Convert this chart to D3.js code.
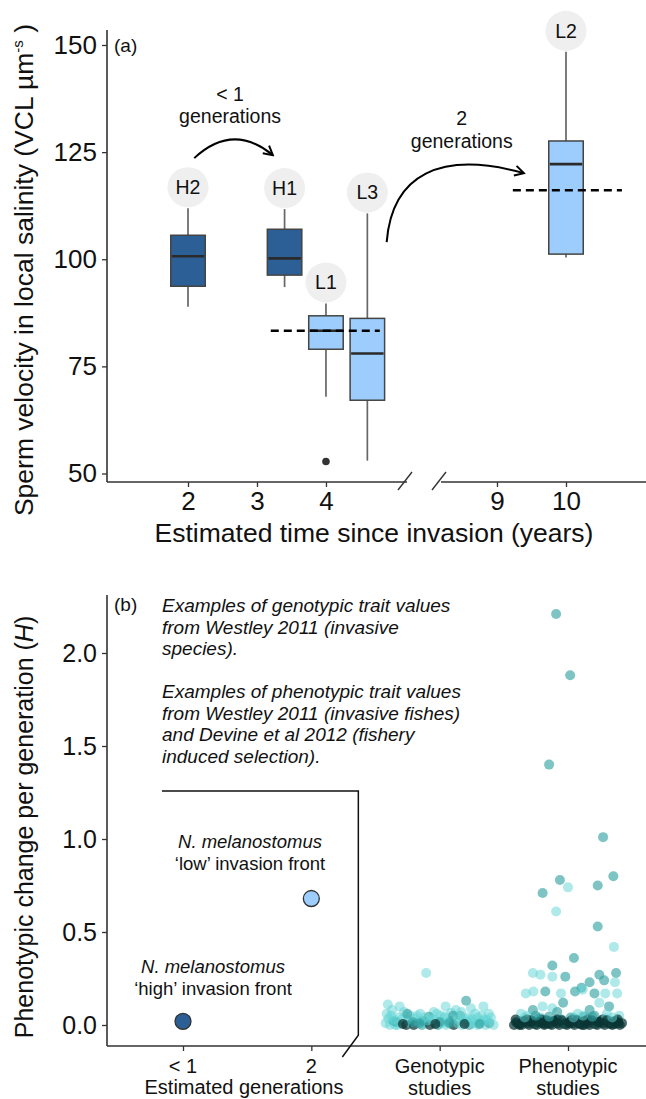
<!DOCTYPE html>
<html>
<head>
<meta charset="utf-8">
<script src="https://cdn.jsdelivr.net/npm/d3@7"></script>
<style>
  body { margin: 0; background: #fff; }
  text { font-family: "Liberation Sans", Arial, sans-serif; fill: #111; }
</style>
</head>
<body>
<svg id="chart" width="646" height="1099"></svg>
<script>
// ---- panel (a): sperm velocity boxplots ----
const sites = ['H2', 'H1', 'L1', 'L3', 'L2'];
const siteYears = [2, 3.4, 4, 4.6, 10];
const siteFront = ['high', 'high', 'low', 'low', 'low'];
const whiskLo = [88.9, 93.5, 67.9, 53.0, 100.4];
const q1 = [93.7, 96.3, 79.0, 67.1, 101.2];
const median = [100.7, 100.2, 83.3, 78.0, 122.2];
const q3 = [105.6, 107.0, 86.8, 86.2, 127.6];
const whiskHi = [111.9, 111.7, 89.7, 110.7, 148.4];
const outlierSite = ['L1'];
const outlierValue = [52.8];
// dashed reference lines (start year, end year, value)
const refStart = [3.2, 9.23];
const refEnd = [4.78, 10.81];
const refValue = [83.3, 116.1];
const yearTicks = [2, 3, 4, 9, 10];
const velocityTicks = [50, 75, 100, 125, 150];

// ---- panel (b): phenotypic change per generation ----
const genCategories = ['< 1', '2', 'Genotypic', 'Phenotypic'];
const genTickLines = [['< 1'], ['2'], ['Genotypic', 'studies'], ['Phenotypic', 'studies']];
const gobyCategory = ['< 1', '2'];
const gobyValue = [0.02, 0.68];
const gobyFront = ['high', 'low'];
const hTicks = [0.0, 0.5, 1.0, 1.5, 2.0];

// genotypic studies: jitter (fraction of half band), H value, shade group (0 light, 1 mid, 2 dark)
const genoJitter = [-0.25, -0.96, -0.74, 0.49, 0.81, 0.11, -0.88, -0.36, -0.11, 0.21, 0.58, 0.91, -0.55, 0.38, -0.66, 0.02, 0.70, -0.20, 0.30, -0.45,
  -1.0, -0.92, -0.85, -0.78, -0.7, -0.62, -0.55, -0.48, -0.4, -0.33, -0.26, -0.18, -0.1, -0.03, 0.04, 0.12, 0.19, 0.26, 0.33, 0.41, 0.48, 0.55, 0.62, 0.7, 0.77, 0.85, 0.92, 1.0,
  -0.95, -0.58, -0.22, 0.08, 0.44, 0.82, -0.8, -0.3, 0.15, 0.6,
  -0.9, -0.75, -0.6, -0.42, -0.28, -0.05, 0.1, 0.25, 0.4, 0.52, 0.66, 0.78, 0.95, -0.98, -0.15, 0.33, 0.88, -0.5, 0.0, 0.5, -0.82, 0.72,
  -0.68, -0.38, -0.08, 0.18, 0.46, 0.74, -0.85, 0.6];
const genoValue = [0.28, 0.11, 0.10, 0.13, 0.10, 0.10, 0.08, 0.06, 0.07, 0.065, 0.09, 0.06, 0.05, 0.05, 0.07, 0.05, 0.04, 0.045, 0.08, 0.035,
  0.01, 0.0, 0.02, 0.0, 0.03, 0.0, 0.01, 0.0, 0.02, 0.0, 0.01, 0.0, 0.03, 0.0, 0.01, 0.0, 0.02, 0.0, 0.01, 0.0, 0.03, 0.0, 0.01, 0.0, 0.02, 0.0, 0.01, 0.0,
  0.035, 0.03, 0.025, 0.035, 0.02, 0.03, 0.015, 0.02, 0.015, 0.02,
  0.05, 0.04, 0.06, 0.05, 0.04, 0.06, 0.045, 0.05, 0.07, 0.04, 0.06, 0.05, 0.04, 0.06, 0.03, 0.03, 0.025, 0.015, 0.015, 0.015, 0.0, 0.01,
  0.005, 0.01, 0.005, 0.01, 0.005, 0.005, 0.03, 0.035];
const genoShade = [0, 0, 0, 1, 0, 0, 0, 0, 0, 0, 0, 0, 0, 1, 0, 0, 0, 1, 0, 0,
  0, 0, 1, 0, 0, 2, 0, 2, 0, 1, 0, 2, 0, 1, 0, 0, 1, 2, 0, 0, 0, 1, 0, 0, 0, 0, 1, 0,
  0, 0, 0, 0, 0, 0, 1, 1, 0, 0,
  0, 0, 1, 0, 0, 0, 0, 1, 0, 0, 0, 0, 0, 0, 0, 0, 0, 1, 1, 0, 0, 0,
  2, 1, 2, 1, 2, 1, 0, 0];

// phenotypic studies
const phenoJitter = [-0.22, 0.04, -0.35, 0.65, 0.84, -0.15, 0.0, -0.47, 0.55, -0.22, 0.55, 0.85, 0.11, -0.29, -0.65, -0.51, -0.29, -0.05, 0.4, 0.58,
  0.89, 0.67, 0.87, 0.25, -0.78, -0.64, -0.42, -0.13, 0.13, 0.27, 0.49, 0.69, 0.91, -0.09, -0.65, -0.47, -0.29, 0.4, 0.58, 0.76,
  -0.87, -0.2, 0.18, 0.95, 0.49, -0.5, 0.3, -0.75, 0.05, 0.72,
  -1.0, -0.93, -0.86, -0.79, -0.72, -0.65, -0.58, -0.51, -0.44, -0.37, -0.3, -0.23, -0.16, -0.09, -0.02, 0.05, 0.12, 0.19, 0.26, 0.33, 0.4, 0.47, 0.54, 0.61, 0.68, 0.75, 0.82, 0.89, 0.96, 1.0,
  -0.97, -0.88, -0.76, -0.62, -0.49, -0.34, -0.2, -0.06, 0.08, 0.22, 0.36, 0.5, 0.64, 0.78, 0.92,
  -0.9, -0.68, -0.42, -0.26, 0.02, 0.3, 0.56, 0.86, -0.55, 0.15, 0.7, -0.12,
  -0.96, -0.89, -0.82, -0.75, -0.68, -0.61, -0.54, -0.47, -0.4, -0.33, -0.26, -0.19, -0.12, -0.05, 0.02, 0.09, 0.16, 0.23, 0.3, 0.37, 0.44, 0.51, 0.58, 0.65, 0.72, 0.79, 0.86, 0.93,
  -0.8, -0.35, 0.1, 0.45, 0.82, -0.6, 0.28];
const phenoValue = [2.21, 1.88, 1.40, 1.01, 0.80, 0.78, 0.74, 0.71, 0.75, 0.61, 0.53, 0.42, 0.36, 0.32, 0.28, 0.27, 0.26, 0.26, 0.23, 0.27,
  0.28, 0.24, 0.23, 0.20, 0.17, 0.18, 0.18, 0.17, 0.18, 0.19, 0.17, 0.17, 0.17, 0.12, 0.08, 0.10, 0.09, 0.08, 0.12, 0.10,
  0.06, 0.07, 0.06, 0.05, 0.05, 0.04, 0.045, 0.05, 0.04, 0.06,
  0.0, 0.01, 0.0, 0.02, 0.0, 0.01, 0.0, 0.02, 0.0, 0.01, 0.0, 0.02, 0.0, 0.01, 0.0, 0.02, 0.0, 0.01, 0.0, 0.02, 0.0, 0.01, 0.0, 0.02, 0.0, 0.01, 0.0, 0.02, 0.0, 0.01,
  0.03, 0.02, 0.03, 0.01, 0.03, 0.02, 0.03, 0.01, 0.03, 0.02, 0.03, 0.01, 0.03, 0.02, 0.03,
  0.0, 0.015, 0.005, 0.02, 0.01, 0.0, 0.015, 0.005, 0.035, 0.03, 0.035, 0.03,
  0.015, 0.005, 0.02, 0.01, 0.025, 0.005, 0.015, 0.01, 0.025, 0.005, 0.02, 0.01, 0.025, 0.005, 0.015, 0.01, 0.025, 0.005, 0.02, 0.01, 0.025, 0.005, 0.015, 0.01, 0.025, 0.005, 0.02, 0.01,
  0.04, 0.045, 0.04, 0.045, 0.04, 0.05, 0.05];
const phenoShade = [1, 1, 1, 1, 1, 1, 0, 1, 1, 0, 1, 0, 1, 1, 0, 0, 0, 1, 1, 1,
  1, 1, 0, 1, 0, 0, 1, 0, 1, 0, 1, 0, 0, 1, 1, 0, 0, 1, 0, 1,
  0, 1, 0, 0, 1, 0, 1, 0, 1, 0,
  2, 2, 2, 2, 2, 2, 2, 2, 2, 2, 2, 2, 2, 2, 2, 2, 2, 2, 2, 2, 2, 2, 2, 2, 2, 2, 2, 2, 2, 2,
  2, 1, 2, 0, 2, 1, 2, 0, 2, 1, 2, 0, 2, 1, 2,
  2, 2, 2, 2, 2, 2, 2, 2, 1, 1, 0, 1,
  2, 2, 2, 2, 2, 2, 2, 2, 2, 2, 2, 2, 2, 2, 2, 2, 2, 2, 2, 2, 2, 2, 2, 2, 2, 2, 2, 2,
  0, 1, 0, 1, 0, 1, 0];

const frontColor = { high: '#2c5f95', low: '#9ccdfd' };
const shadeColor = ['#5fd3d3', '#2e9f9f', '#0a3535'];
const shadeOpacity = [0.5, 0.62, 0.72];
const fontFamily = '"Liberation Sans", Arial, sans-serif';

const svg = d3.select('#chart');

// =================== panel (a) ===================
const axisLeftX = 107;
const aTop = 30, aBottom = 482;

// broken x axis: years 2-4 and 9-10 share one step width
const x = d3.scaleLinear()
  .domain([2, 4.95, 8.45, 10])
  .range([188, 391.5, 459, 566]);
const y = d3.scaleLinear().domain([50, 150]).range([473.5, 45]);
const boxW = x(2.5) - x(2);

const a = svg.append('g');

// y axis
a.append('line')
  .attr('x1', axisLeftX).attr('x2', axisLeftX)
  .attr('y1', aTop).attr('y2', aBottom)
  .attr('stroke', '#333').attr('stroke-width', 1.6);
const yAxisA = a.append('g')
  .attr('transform', `translate(${axisLeftX},0)`)
  .call(d3.axisLeft(y).tickValues(velocityTicks).tickSize(5).tickPadding(5));
yAxisA.select('.domain').remove();
yAxisA.selectAll('.tick line').attr('stroke', '#333').attr('stroke-width', 1.3);
yAxisA.selectAll('.tick text').attr('font-size', 26).attr('fill', '#111')
  .style('font-family', fontFamily);

// x axis with break
const breakL = 407, breakR = 441;
a.append('line')
  .attr('x1', axisLeftX).attr('x2', breakL)
  .attr('y1', aBottom).attr('y2', aBottom)
  .attr('stroke', '#333').attr('stroke-width', 1.6);
a.append('line')
  .attr('x1', breakR).attr('x2', 646)
  .attr('y1', aBottom).attr('y2', aBottom)
  .attr('stroke', '#333').attr('stroke-width', 1.6);
[breakL - 2, breakR - 2].forEach(bx => {
  a.append('line')
    .attr('x1', bx - 7).attr('y1', aBottom + 8)
    .attr('x2', bx + 7).attr('y2', aBottom - 10)
    .attr('stroke', '#333').attr('stroke-width', 1.4);
});
const xAxisA = a.append('g')
  .attr('transform', `translate(0,${aBottom})`)
  .call(d3.axisBottom(x).tickValues(yearTicks).tickSize(5).tickPadding(5).tickFormat(d3.format('d')));
xAxisA.select('.domain').remove();
xAxisA.selectAll('.tick line').attr('stroke', '#333').attr('stroke-width', 1.3);
xAxisA.selectAll('.tick text').attr('font-size', 26).attr('fill', '#111')
  .style('font-family', fontFamily);

a.append('text')
  .attr('x', 374).attr('y', 542)
  .attr('text-anchor', 'middle')
  .attr('font-size', 26.5)
  .text('Estimated time since invasion (years)');

const yTitleA = a.append('text')
  .attr('transform', 'translate(33,270) rotate(-90)')
  .attr('text-anchor', 'middle')
  .attr('font-size', 26.5);
yTitleA.append('tspan').text('Sperm velocity in local salinity (VCL \u00b5m');
yTitleA.append('tspan').attr('font-size', 15).attr('dy', -10).text('-s');
yTitleA.append('tspan').attr('dy', 10).text(' )');

a.append('text')
  .attr('x', 114).attr('y', 52)
  .attr('font-size', 19)
  .text('(a)');

// boxes
const boxes = a.selectAll('.box')
  .data(sites)
  .enter().append('g')
  .attr('class', 'box');

boxes.append('line')
  .attr('x1', (d, i) => x(siteYears[i])).attr('x2', (d, i) => x(siteYears[i]))
  .attr('y1', (d, i) => y(whiskLo[i])).attr('y2', (d, i) => y(whiskHi[i]))
  .attr('stroke', '#666').attr('stroke-width', 1.7);

boxes.append('rect')
  .attr('x', (d, i) => x(siteYears[i]) - boxW / 2)
  .attr('width', boxW)
  .attr('y', (d, i) => y(q3[i]))
  .attr('height', (d, i) => y(q1[i]) - y(q3[i]))
  .attr('fill', (d, i) => frontColor[siteFront[i]])
  .attr('stroke', '#444').attr('stroke-width', 1.5);

boxes.append('line')
  .attr('x1', (d, i) => x(siteYears[i]) - boxW / 2 + 1)
  .attr('x2', (d, i) => x(siteYears[i]) + boxW / 2 - 1)
  .attr('y1', (d, i) => y(median[i])).attr('y2', (d, i) => y(median[i]))
  .attr('stroke', '#2a2a2a').attr('stroke-width', 2.6);

// dashed reference lines drawn over the boxes
a.selectAll('.ref')
  .data(refValue)
  .enter().append('line')
  .attr('class', 'ref')
  .attr('x1', (d, i) => x(refStart[i]))
  .attr('x2', (d, i) => x(refEnd[i]))
  .attr('y1', d => y(d)).attr('y2', d => y(d))
  .attr('stroke', '#000').attr('stroke-width', 2.6)
  .attr('stroke-dasharray', '8,5');

a.selectAll('.outlier')
  .data(outlierValue)
  .enter().append('circle')
  .attr('class', 'outlier')
  .attr('cx', (d, i) => x(siteYears[sites.indexOf(outlierSite[i])]))
  .attr('cy', d => y(d))
  .attr('r', 3.8)
  .attr('fill', '#333');

// site labels in grey bubbles above the whiskers
boxes.append('ellipse')
  .attr('cx', (d, i) => x(siteYears[i]))
  .attr('cy', (d, i) => y(whiskHi[i]) - 21)
  .attr('rx', 20.5).attr('ry', 20)
  .attr('fill', '#efefef');
boxes.append('text')
  .attr('x', (d, i) => x(siteYears[i]))
  .attr('y', (d, i) => y(whiskHi[i]) - 21)
  .attr('dy', '0.36em')
  .attr('text-anchor', 'middle')
  .attr('font-size', 19.5)
  .text(d => d);

// generation arrows
svg.append('defs').append('marker')
  .attr('id', 'head')
  .attr('viewBox', '0 0 12 12')
  .attr('refX', 10).attr('refY', 6)
  .attr('markerWidth', 12).attr('markerHeight', 12)
  .attr('markerUnits', 'userSpaceOnUse')
  .attr('orient', 'auto')
  .append('path')
  .attr('d', 'M1,1 L10,6 L1,11')
  .attr('fill', 'none').attr('stroke', '#000').attr('stroke-width', 2);

const arrow1 = d3.path();
arrow1.moveTo(x(2.09), y(123.6));
arrow1.quadraticCurveTo(x(2.65), y(132.0), x(3.23), y(124.3));
a.append('path')
  .attr('d', arrow1.toString())
  .attr('fill', 'none').attr('stroke', '#000').attr('stroke-width', 2)
  .attr('marker-end', 'url(#head)');

const arrow2 = d3.path();
arrow2.moveTo(x(4.88), y(104.0));
arrow2.bezierCurveTo(x(4.98), y(119.7), x(7.46), y(125.5), x(9.39), y(120.1));
a.append('path')
  .attr('d', arrow2.toString())
  .attr('fill', 'none').attr('stroke', '#000').attr('stroke-width', 2)
  .attr('marker-end', 'url(#head)');

const genNote1 = a.append('text').attr('text-anchor', 'middle').attr('font-size', 19.5);
genNote1.append('tspan').attr('x', x(2.61)).attr('y', 101).text('< 1');
genNote1.append('tspan').attr('x', x(2.61)).attr('y', 123).text('generations');
const genNote2 = a.append('text').attr('text-anchor', 'middle').attr('font-size', 19.5);
genNote2.append('tspan').attr('x', x(8.49)).attr('y', 125).text('2');
genNote2.append('tspan').attr('x', x(8.49)).attr('y', 148).text('generations');

// =================== panel (b) ===================
const bTop = 595, bBottom = 1046;
const x2 = d3.scalePoint().domain(genCategories).range([183, 568]);
const y2 = d3.scaleLinear().domain([0, 2]).range([1025, 653]);
const jitterHalf = 54;

const b = svg.append('g');

b.append('line')
  .attr('x1', axisLeftX).attr('x2', axisLeftX)
  .attr('y1', bTop).attr('y2', bBottom)
  .attr('stroke', '#333').attr('stroke-width', 1.6);
b.append('line')
  .attr('x1', axisLeftX).attr('x2', 646)
  .attr('y1', bBottom).attr('y2', bBottom)
  .attr('stroke', '#333').attr('stroke-width', 1.6);

const yAxisB = b.append('g')
  .attr('transform', `translate(${axisLeftX},0)`)
  .call(d3.axisLeft(y2).tickValues(hTicks).tickSize(5).tickPadding(5).tickFormat(d3.format('.1f')));
yAxisB.select('.domain').remove();
yAxisB.selectAll('.tick line').attr('stroke', '#333').attr('stroke-width', 1.3);
yAxisB.selectAll('.tick text').attr('font-size', 25).attr('fill', '#111')
  .style('font-family', fontFamily);

const xAxisB = b.append('g')
  .attr('transform', `translate(0,${bBottom})`)
  .call(d3.axisBottom(x2).tickSize(5).tickFormat(''));
xAxisB.select('.domain').remove();
xAxisB.selectAll('.tick line').attr('stroke', '#333').attr('stroke-width', 1.3);

genCategories.forEach((c, i) => {
  const t = b.append('text').attr('text-anchor', 'middle').attr('font-size', 20);
  genTickLines[i].forEach((ln, j) => {
    t.append('tspan').attr('x', x2(c)).attr('y', 1073 + j * 22).text(ln);
  });
});

b.append('text')
  .attr('x', 244).attr('y', 1094)
  .attr('text-anchor', 'middle')
  .attr('font-size', 20)
  .text('Estimated generations');

const yTitleB = b.append('text')
  .attr('transform', 'translate(33,827) rotate(-90)')
  .attr('text-anchor', 'middle')
  .attr('font-size', 25);
yTitleB.append('tspan').text('Phenotypic change per generation (');
yTitleB.append('tspan').attr('font-style', 'italic').text('H');
yTitleB.append('tspan').text(')');

b.append('text')
  .attr('x', 114).attr('y', 611)
  .attr('font-size', 19)
  .text('(b)');

const notes = [
  ['Examples of genotypic trait values', 'from Westley 2011 (invasive', 'species).'],
  ['Examples of phenotypic trait values', 'from Westley 2011 (invasive fishes)', 'and Devine et al 2012 (fishery', 'induced selection).']
];
const noteTop = [612, 698];
notes.forEach((lines, k) => {
  const t = b.append('text').attr('font-size', 19).attr('font-style', 'italic');
  lines.forEach((ln, j) => {
    t.append('tspan').attr('x', 162).attr('y', noteTop[k] + j * 21.7).text(ln);
  });
});

// bracket around the goby points
const bracketY = y2(1.258);
const bracketR = x2('2') + 47;
const bracket = d3.path();
bracket.moveTo(x2('< 1') - 21, bracketY);
bracket.lineTo(bracketR, bracketY);
bracket.lineTo(bracketR, y2(-0.055));
bracket.lineTo(bracketR - 16, y2(-0.172));
b.append('path')
  .attr('d', bracket.toString())
  .attr('fill', 'none').attr('stroke', '#111').attr('stroke-width', 1.5);

// study scatter
const studyPoints = genoValue.map((v, i) => ({ cat: 'Genotypic', j: genoJitter[i], v: v, s: genoShade[i] }))
  .concat(phenoValue.map((v, i) => ({ cat: 'Phenotypic', j: phenoJitter[i], v: v, s: phenoShade[i] })));

b.selectAll('.study')
  .data(studyPoints)
  .enter().append('circle')
  .attr('class', 'study')
  .attr('cx', d => x2(d.cat) + d.j * jitterHalf)
  .attr('cy', d => y2(d.v))
  .attr('r', 5)
  .attr('fill', d => shadeColor[d.s])
  .attr('fill-opacity', d => shadeOpacity[d.s]);

// goby estimates
b.selectAll('.goby')
  .data(gobyValue)
  .enter().append('circle')
  .attr('class', 'goby')
  .attr('cx', (d, i) => x2(gobyCategory[i]))
  .attr('cy', d => y2(d))
  .attr('r', 8)
  .attr('fill', (d, i) => frontColor[gobyFront[i]])
  .attr('stroke', '#333').attr('stroke-width', 1.3);

const gobyLabelX = [213, 250];
const gobyLabelY = [973, 848];
const gobyLabelText = ['\u2018high\u2019 invasion front', '\u2018low\u2019 invasion front'];
gobyLabelX.forEach((gx, i) => {
  const t = b.append('text').attr('text-anchor', 'middle').attr('font-size', 18.5);
  t.append('tspan').attr('x', gx).attr('y', gobyLabelY[i]).attr('font-style', 'italic').text('N. melanostomus');
  t.append('tspan').attr('x', gx).attr('y', gobyLabelY[i] + 22).text(gobyLabelText[i]);
});
</script>
</body>
</html>
